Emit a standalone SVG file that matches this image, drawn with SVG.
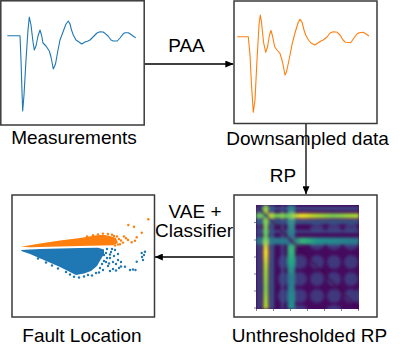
<svg xmlns="http://www.w3.org/2000/svg" width="419" height="345" viewBox="0 0 419 345">
<style>
.box{fill:#fff;stroke:#3a3a3a;stroke-width:1.5}
.lbl{font-family:"Liberation Sans",Arial,sans-serif;font-size:19px;fill:#000;text-anchor:middle}
.conn{stroke:#000;stroke-width:1.3;fill:none;marker-end:url(#ah)}
.sig{fill:none;stroke-width:1.1;stroke-linejoin:round}
.tick{stroke:#666;stroke-width:0.8}
.or{fill:#ff7f0e}
.bl{fill:#1f77b4}
</style>
<defs>
<marker id="ah" markerUnits="userSpaceOnUse" markerWidth="8" markerHeight="7" refX="8" refY="3.5" orient="auto">
<path d="M0,0 L8,3.5 L0,7 z" fill="#000"/>
</marker>
<clipPath id="hmclip"><rect x="256" y="205" width="103" height="104"/></clipPath>
<filter id="soft" x="-10%" y="-10%" width="120%" height="120%"><feGaussianBlur stdDeviation="1.5"/></filter>
<linearGradient id="ycol" x1="0" y1="205" x2="0" y2="309" gradientUnits="userSpaceOnUse">
<stop offset="0" stop-color="#6ece58"/><stop offset="0.07" stop-color="#b5de2b"/><stop offset="0.1" stop-color="#2a788e"/><stop offset="0.13" stop-color="#8fd744"/><stop offset="0.3" stop-color="#5ec962"/><stop offset="0.45" stop-color="#fde725"/><stop offset="0.6" stop-color="#a5db36"/><stop offset="0.8" stop-color="#7ad151"/><stop offset="1" stop-color="#b5de2b"/>
</linearGradient>
<linearGradient id="yrow" x1="256" y1="0" x2="359" y2="0" gradientUnits="userSpaceOnUse">
<stop offset="0" stop-color="#5ec962"/><stop offset="0.05" stop-color="#7ad151"/><stop offset="0.095" stop-color="#2a788e"/><stop offset="0.14" stop-color="#d8e219"/><stop offset="0.2" stop-color="#5ec962"/><stop offset="0.25" stop-color="#8fd744"/><stop offset="0.3" stop-color="#5ec962"/><stop offset="0.45" stop-color="#fde725"/><stop offset="0.55" stop-color="#bddf26"/><stop offset="0.75" stop-color="#7ad151"/><stop offset="1" stop-color="#b5de2b"/>
</linearGradient>
<linearGradient id="tcol" x1="0" y1="205" x2="0" y2="309" gradientUnits="userSpaceOnUse">
<stop offset="0" stop-color="#2a788e"/><stop offset="0.1" stop-color="#3b9a8a"/><stop offset="0.3" stop-color="#2a788e"/><stop offset="0.42" stop-color="#35b779"/><stop offset="0.55" stop-color="#22a884"/><stop offset="0.7" stop-color="#2a788e"/><stop offset="1" stop-color="#21918c"/>
</linearGradient>
<linearGradient id="trow" x1="256" y1="0" x2="359" y2="0" gradientUnits="userSpaceOnUse">
<stop offset="0" stop-color="#2a788e"/><stop offset="0.3" stop-color="#2a788e"/><stop offset="0.34" stop-color="#3b528b"/><stop offset="0.45" stop-color="#35b779"/><stop offset="0.6" stop-color="#21918c"/><stop offset="1" stop-color="#2a788e"/>
</linearGradient>
</defs>

<g id="connectors">
<line class="conn" x1="144.8" y1="64" x2="233.3" y2="64"/>
<line class="conn" x1="306" y1="123.8" x2="306" y2="194.3"/>
<line class="conn" x1="233.3" y1="257" x2="154.8" y2="257"/>
<text class="lbl" x="186.5" y="52">PAA</text>
<text class="lbl" x="283" y="182">RP</text>
<text class="lbl" x="195" y="218">VAE +</text>
<text class="lbl" x="194" y="237">Classifier</text>
</g>

<g id="measurements">
<rect class="box" x="0.8" y="0.8" width="143.4" height="124.2"/>
<polyline class="sig" stroke="#1f77b4" points="7.3,35.7 20,35.7 21,60 22,92 22.7,111 24,95 26,60 28,30 29.3,17 31,25 33,42 34.3,50 36,46 38,36 40,30 41.5,35 43,43 46,46 49.3,51 51,57 53.3,69 55.5,64 58,50 60,40 63,32 66,24 68.3,21 70,24 71.5,30 73.3,35 76,40 79,42 81.7,44 85,42 88,41 90,40 93,37 97,33 100,31.7 103,32 105,33.3 108,36 111,40 113.3,41 117.3,41 120,38 123,34 125,32.7 128.3,32.7 131,34.5 133,36 135.7,37.7"/>
<text class="lbl" x="74" y="144">Measurements</text>
</g>

<g id="downsampled">
<rect class="box" x="234" y="1" width="143" height="122.5"/>
<polyline class="sig" stroke="#ff7f0e" points="237.3,36.7 248.3,36.7 250,55 251.5,85 253.3,112.3 255,100 257,60 259,25 260.3,15 261.5,22 263.5,42 265.7,52.3 267.5,47 269.5,35 271,30.5 272.5,36 274.7,46.7 277,50 280,53.3 282.5,62 285,75 286.5,72 289,60 292.3,43.3 295,33 298,23 300,19.3 302,22 304,30 305.7,35 308.5,40 311,43 314.7,45 318,43 321,41 323.3,40 327,37 330,33 333.3,31.7 337.3,32.3 340,35 343,40 345.7,42.3 350.7,42.7 354,38 357,34 359,32.7 363.3,32.3 366,34 369,36"/>
<text class="lbl" x="307.5" y="145">Downsampled data</text>
</g>

<g id="recurrence">
<rect class="box" x="234" y="195" width="143" height="122"/>
<g clip-path="url(#hmclip)">
<rect x="256" y="205" width="103" height="104" fill="#450a5e"/>
<g filter="url(#soft)">
<g fill="#3f4788" opacity="0.75">
<ellipse cx="300" cy="262" rx="7" ry="7"/><ellipse cx="317" cy="262" rx="7" ry="7"/><ellipse cx="334" cy="262" rx="7" ry="7"/><ellipse cx="351" cy="262" rx="7" ry="7"/>
<ellipse cx="300" cy="279" rx="7" ry="7"/><ellipse cx="317" cy="279" rx="7" ry="7"/><ellipse cx="334" cy="279" rx="7" ry="7"/><ellipse cx="351" cy="279" rx="7" ry="7"/>
<ellipse cx="300" cy="296" rx="7" ry="7"/><ellipse cx="317" cy="296" rx="7" ry="7"/><ellipse cx="334" cy="296" rx="7" ry="7"/><ellipse cx="351" cy="296" rx="7" ry="7"/>
<ellipse cx="283" cy="262" rx="5" ry="7"/><ellipse cx="283" cy="279" rx="5" ry="7"/><ellipse cx="283" cy="296" rx="5" ry="7"/>
<ellipse cx="317" cy="245" rx="7" ry="5"/><ellipse cx="334" cy="245" rx="7" ry="5"/><ellipse cx="351" cy="245" rx="7" ry="5"/>
<ellipse cx="317" cy="228" rx="7" ry="4"/><ellipse cx="334" cy="228" rx="7" ry="4"/><ellipse cx="351" cy="228" rx="7" ry="4"/>
<ellipse cx="300" cy="309" rx="7" ry="4"/><ellipse cx="334" cy="309" rx="7" ry="4"/><ellipse cx="359" cy="296" rx="4" ry="7"/>
</g>
<rect x="257.5" y="205" width="3" height="104" fill="#3b528b"/>
<rect x="256" y="207" width="103" height="3" fill="#3b528b"/>
<rect x="270" y="205" width="4" height="104" fill="#31688e" opacity="0.8"/>
<rect x="256" y="220" width="103" height="4" fill="#31688e" opacity="0.8"/>
<rect x="281" y="205" width="3" height="104" fill="#3b528b" opacity="0.8"/>
<rect x="256" y="230" width="103" height="3" fill="#3b528b" opacity="0.8"/>
<rect x="287.5" y="205" width="7.5" height="104" fill="url(#tcol)"/>
<rect x="256" y="237.5" width="103" height="7" fill="url(#trow)"/>
<rect x="263.3" y="205" width="5" height="104" fill="url(#ycol)"/>
<rect x="256" y="213.3" width="103" height="5" fill="url(#yrow)"/>
<line x1="256" y1="205" x2="359" y2="309" stroke="#440154" stroke-width="1.8"/>
</g>
</g>
<g class="tick">
<line x1="254" y1="222.5" x2="256" y2="222.5"/><line x1="254" y1="240" x2="256" y2="240"/><line x1="254" y1="257" x2="256" y2="257"/><line x1="254" y1="274" x2="256" y2="274"/><line x1="254" y1="291" x2="256" y2="291"/><line x1="254" y1="308" x2="256" y2="308"/>
<line x1="256.5" y1="309" x2="256.5" y2="311"/><line x1="273.5" y1="309" x2="273.5" y2="311"/><line x1="290.5" y1="309" x2="290.5" y2="311"/><line x1="307.5" y1="309" x2="307.5" y2="311"/><line x1="324.5" y1="309" x2="324.5" y2="311"/><line x1="341.5" y1="309" x2="341.5" y2="311"/><line x1="358.5" y1="309" x2="358.5" y2="311"/>
</g>
<text class="lbl" x="309.5" y="342">Unthresholded RP</text>
</g>

<g id="fault-location">
<rect class="box" x="12" y="195" width="142.5" height="122"/>
<polygon class="bl" points="21,250 40,249 60,248.5 80,248 98,247.8 104,249.5 104,254 101,259 97,266 91,271 84,273.5 76,275 70,272 60,267 45,260.5 30,254 22,251.3"/>
<g class="bl">
<circle cx="110" cy="271" r="1.2"/><circle cx="113" cy="269" r="1.2"/><circle cx="116" cy="270.5" r="1.2"/><circle cx="119" cy="268" r="1.2"/><circle cx="121" cy="266.5" r="1.2"/><circle cx="125" cy="266.7" r="1.2"/><circle cx="130" cy="270" r="1.2"/><circle cx="133" cy="269.5" r="1.2"/><circle cx="135.5" cy="270" r="1.2"/><circle cx="136.7" cy="261.7" r="1.2"/><circle cx="141.7" cy="253" r="1.2"/><circle cx="143" cy="260" r="1.2"/><circle cx="145" cy="251.7" r="1.2"/><circle cx="142" cy="257" r="1.2"/><circle cx="144" cy="255" r="1.2"/><circle cx="106" cy="262" r="1.2"/><circle cx="110" cy="258" r="1.2"/><circle cx="113" cy="262" r="1.2"/><circle cx="116" cy="264" r="1.2"/><circle cx="118" cy="260" r="1.2"/><circle cx="111" cy="252" r="1.2"/><circle cx="114" cy="256" r="1.2"/><circle cx="108" cy="266" r="1.2"/><circle cx="103" cy="270" r="1.2"/><circle cx="99" cy="272.5" r="1.2"/><circle cx="92" cy="275.5" r="1.2"/><circle cx="84" cy="276.5" r="1.2"/><circle cx="104" cy="255" r="1.2"/><circle cx="112" cy="249" r="1.2"/><circle cx="102" cy="264" r="1.2"/><circle cx="115" cy="250" r="1.2"/><circle cx="118" cy="254" r="1.2"/><circle cx="121" cy="262" r="1.2"/><circle cx="79" cy="277.5" r="1.2"/><circle cx="66" cy="272" r="1.2"/><circle cx="52" cy="265.5" r="1.2"/><circle cx="107" cy="249" r="1.2"/><circle cx="106" cy="253" r="1.2"/><circle cx="107" cy="258" r="1.2"/><circle cx="104" cy="261" r="1.2"/><circle cx="100" cy="268" r="1.2"/><circle cx="96" cy="273" r="1.2"/><circle cx="88" cy="275" r="1.2"/><circle cx="74" cy="276.8" r="1.2"/><circle cx="70" cy="274.5" r="1.2"/><circle cx="58" cy="268.5" r="1.2"/><circle cx="46" cy="262.5" r="1.2"/><circle cx="38" cy="258.5" r="1.2"/><circle cx="109" cy="263.5" r="1.2"/><circle cx="110" cy="254.5" r="1.2"/>
</g>
<polygon class="or" points="21,246.8 40,243.5 60,240.5 80,238 95,235.5 103,234.8 110,236 116,238 118,243 113,245.3 90,245.8 60,246.4 30,247.3"/>
<g class="or">
<circle cx="128.3" cy="225" r="1.2"/><circle cx="134" cy="226.7" r="1.2"/><circle cx="148.3" cy="219.3" r="1.2"/><circle cx="141.7" cy="232.7" r="1.2"/><circle cx="136.7" cy="237.3" r="1.2"/><circle cx="126" cy="238.3" r="1.2"/><circle cx="131.7" cy="242.3" r="1.2"/><circle cx="135" cy="240.7" r="1.2"/><circle cx="98" cy="234.5" r="1.2"/><circle cx="103" cy="233.6" r="1.2"/><circle cx="108" cy="234" r="1.2"/><circle cx="112" cy="234.8" r="1.2"/><circle cx="117" cy="236.5" r="1.2"/><circle cx="121" cy="240.5" r="1.2"/><circle cx="123" cy="242.6" r="1.2"/><circle cx="118" cy="244.6" r="1.2"/><circle cx="124" cy="236.5" r="1.2"/><circle cx="128" cy="240" r="1.2"/><circle cx="114" cy="236" r="1.2"/><circle cx="119" cy="239" r="1.2"/><circle cx="120" cy="244.2" r="1.2"/><circle cx="115" cy="245.5" r="1.2"/><circle cx="93" cy="235.3" r="1.2"/><circle cx="87" cy="236.4" r="1.2"/>
</g>
<text class="lbl" x="82" y="342">Fault Location</text>
</g>
</svg>
